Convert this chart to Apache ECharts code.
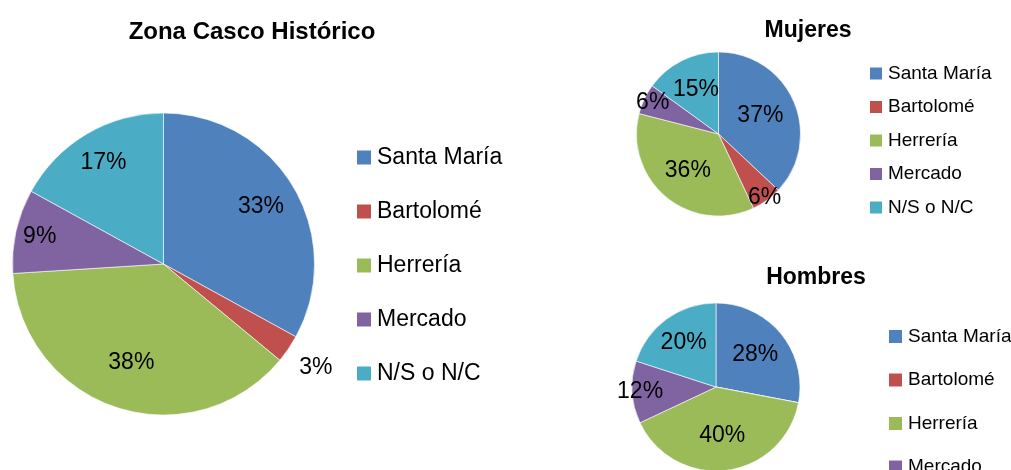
<!DOCTYPE html>
<html>
<head>
<meta charset="utf-8">
<script src="https://cdn.jsdelivr.net/npm/echarts@6/dist/echarts.min.js"></script>
<style>
  html, body { margin: 0; background: #fff; }
  #chart { width: 1011px; height: 470px; }
</style>
</head>
<body>
<div id="chart"></div>
<script>
var categories = ['Santa María', 'Bartolomé', 'Herrería', 'Mercado', 'N/S o N/C'];
var totalValues = [33, 3, 38, 9, 17];
var mujeresValues = [37, 6, 36, 6, 15];
var hombresValues = [28, 0, 40, 12, 20];
var colors = ['#4F81BD', '#C0504D', '#9BBB59', '#8064A2', '#4BACC6'];

var font = 'Liberation Sans';
var chart = echarts.init(document.getElementById('chart'));

// layout of the three pies (label distance as a fraction of the radius)
var pies = [
  { title: 'Zona Casco Histórico', values: totalValues, center: [163.5, 264], r: 151,
    labelAt: [0.73, 1.2, 0.67, 0.82, 0.76],
    titlePos: [252, 20], titleSize: 24,
    legend: { left: 355, top: 146, size: 23, icon: 16, gap: 31 } },
  { title: 'Mujeres', values: mujeresValues, center: [718.5, 134], r: 82,
    labelAt: [0.52, 0.92, 0.55, 0.85, 0.57],
    titlePos: [808, 19], titleSize: 23,
    legend: { left: 868, top: 64, size: 19, icon: 14, gap: 14.5 } },
  { title: 'Hombres', values: hombresValues, center: [716, 387], r: 84,
    labelAt: [0.57, 0.6, 0.55, 0.87, 0.62],
    titlePos: [816, 266], titleSize: 23,
    legend: { left: 887, top: 327, size: 19, icon: 15, gap: 24.5 } }
];

var series = [];
var titles = [];
var legends = [];

pies.forEach(function (p) {
  titles.push({
    text: p.title, left: p.titlePos[0], top: p.titlePos[1], textAlign: 'center', padding: 0,
    textStyle: { fontFamily: font, fontWeight: 'bold', fontSize: p.titleSize, color: '#000' }
  });

  legends.push({
    orient: 'vertical', left: p.legend.left, top: p.legend.top, padding: 0,
    width: 200, height: 400,
    icon: 'rect', itemWidth: p.legend.icon, itemHeight: p.legend.icon, itemGap: p.legend.gap,
    selectedMode: false,
    textStyle: { fontFamily: font, fontSize: p.legend.size, color: '#000' },
    data: categories.map(function (c, i) {
      return { name: c, itemStyle: { color: colors[i] } };
    })
  });

  // the visible slices
  series.push({
    type: 'pie', center: p.center, radius: p.r, startAngle: 90, clockwise: true,
    silent: true, animation: false,
    label: { show: false }, labelLine: { show: false },
    itemStyle: { borderColor: '#fff', borderWidth: 0.6 },
    data: categories.map(function (c, i) {
      return { name: c, value: p.values[i], itemStyle: { color: colors[i] } };
    })
  });

  // one thin transparent ring per label, to set how far out it sits
  p.values.forEach(function (v, k) {
    if (!v) return;
    var d = p.labelAt[k] * p.r;
    series.push({
      type: 'pie', center: p.center, radius: [d - 1, d + 1], startAngle: 90, clockwise: true,
      silent: true, animation: false, labelLine: { show: false },
      itemStyle: { color: 'transparent' },
      data: categories.map(function (c, i) {
        return {
          name: c, value: p.values[i],
          label: {
            show: i === k, position: 'inside', formatter: '{c}%',
            fontFamily: font, fontSize: 23, color: '#000'
          }
        };
      })
    });
  });
});

chart.setOption({
  backgroundColor: '#fff',
  title: titles,
  legend: legends,
  series: series
});
</script>
</body>
</html>
